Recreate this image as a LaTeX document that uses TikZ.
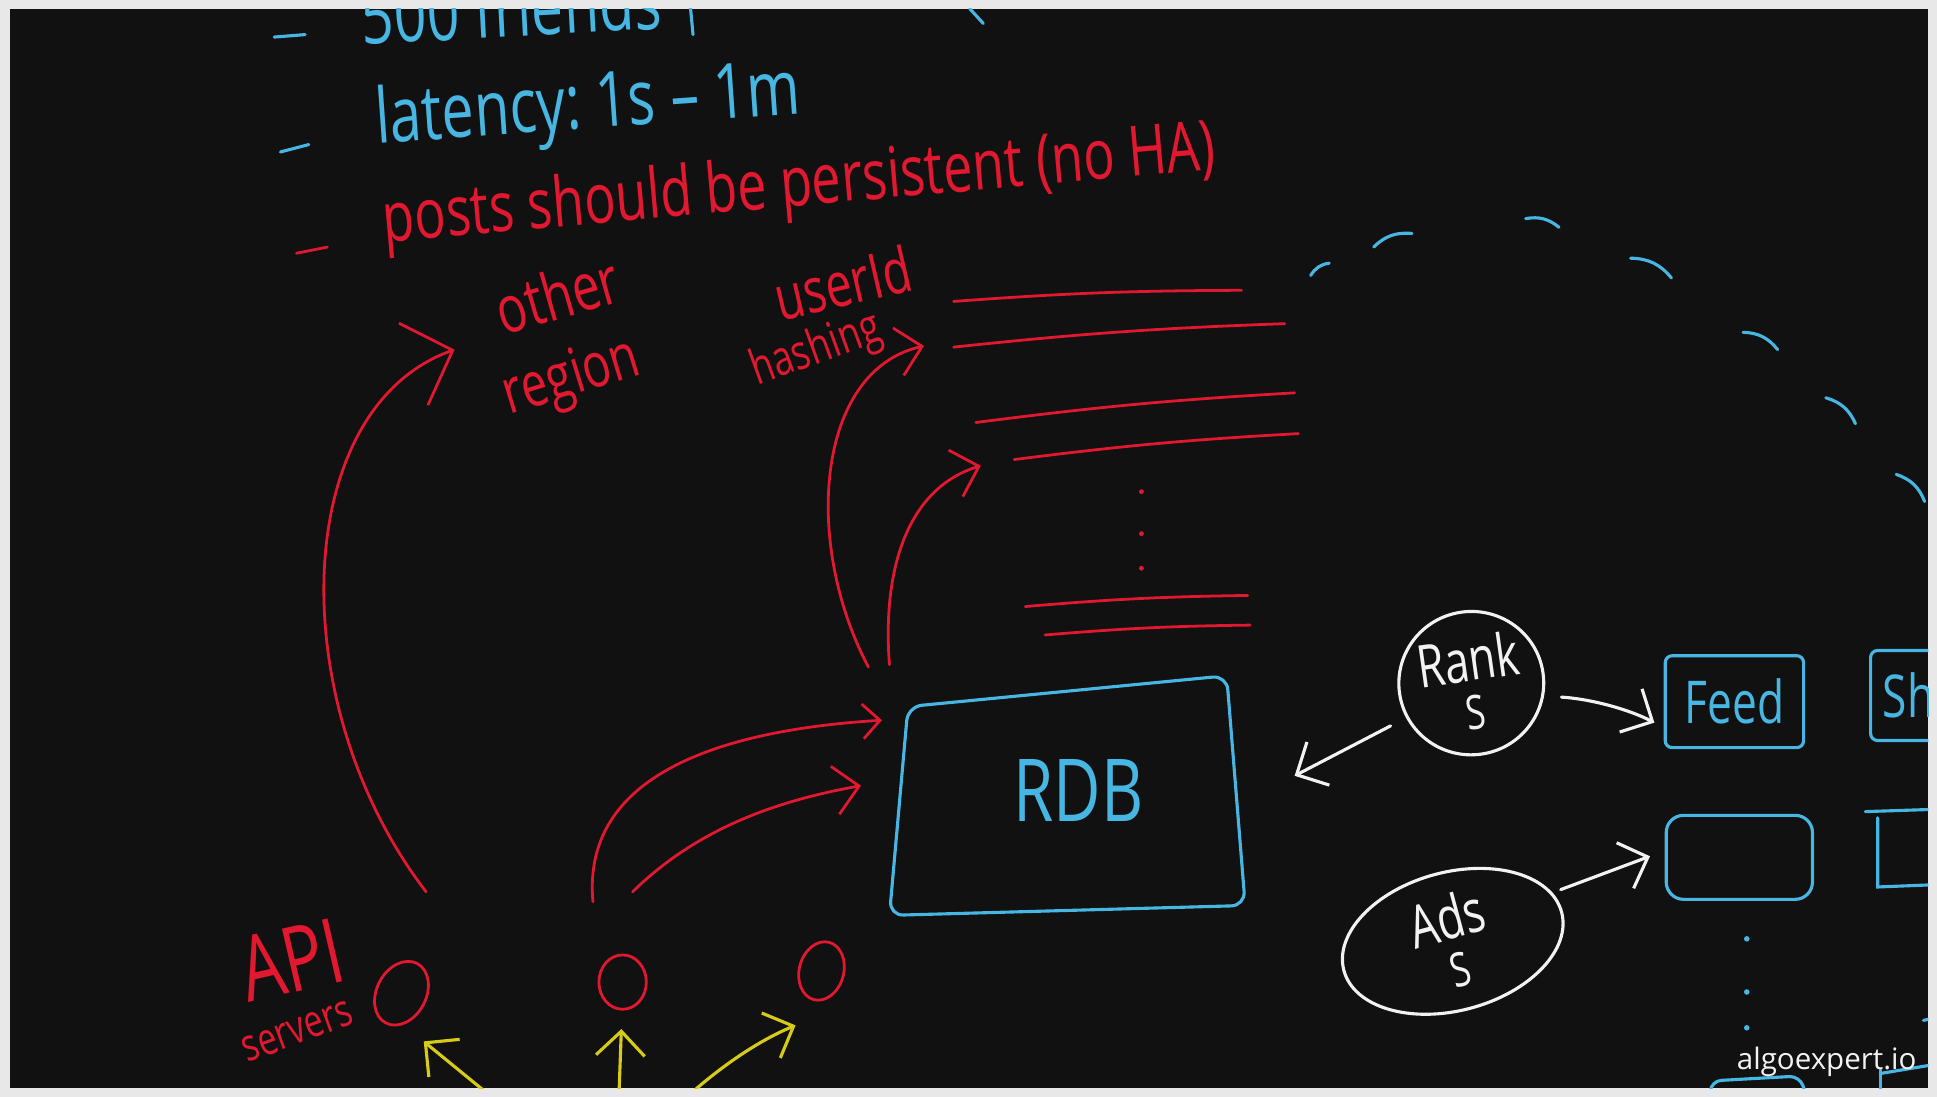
\documentclass[tikz,border=0pt]{standalone}
\usepackage{fontspec}
\setmainfont{Open Sans}
\usetikzlibrary{arrows.meta, shapes.geometric}

\definecolor{board}{RGB}{17,17,17}
\definecolor{frame}{RGB}{232,232,232}
\definecolor{inkred}{RGB}{226,24,48}
\definecolor{inkblue}{RGB}{72,182,226}
\definecolor{inkyellow}{RGB}{214,204,24}
\definecolor{inkwhite}{RGB}{242,242,242}

\newcommand{\handw}[1]{\scalebox{0.75}[1]{#1}}

\begin{document}
\begin{tikzpicture}[x=0.0125cm, y=0.0125cm,
    redpen/.style={draw=inkred, line width=0.8pt, line cap=round},
    bluepen/.style={draw=inkblue, line width=0.9pt, line cap=round},
    whitepen/.style={draw=inkwhite, line width=0.9pt, line cap=round},
    yellowpen/.style={draw=inkyellow, line width=0.9pt, line cap=round},
    redlabel/.style={text=inkred, inner sep=0pt},
    bluelabel/.style={text=inkblue, inner sep=0pt},
    headL/.style={-{Straight Barb[length=12pt,width=25pt]}},
    headM/.style={-{Straight Barb[length=7pt,width=14pt]}},
    headS/.style={-{Straight Barb[length=5pt,width=10pt]}},
    server/.style={redpen, ellipse, inner sep=0pt},
    bluebox/.style={bluepen, rectangle, rounded corners=2pt, inner sep=0pt, text=inkblue},
    bubble/.style={whitepen, ellipse, inner sep=0pt, text=inkwhite, align=center}
]
    \useasboundingbox (0,0) rectangle (1568,-888);
    \fill[frame] (0,0) rectangle (1568,-888);
    \fill[board] (8,-7) rectangle (1561,-881);
    \clip (8,-7) rectangle (1561,-881);

    % requirements
    \draw[bluepen] (222,-30) -- (247,-28);
    \node[bluelabel, anchor=base west, rotate=3, font=\fontsize{22}{22}\selectfont] (friends) at (293,-36) {\handw{500 friends}};
    \draw[bluepen] (559,-7) -- (561,-28);
    \draw[bluepen] (785,-7) -- (796,-19);
    \draw[bluepen] (227,-123) -- (250,-117);
    \node[bluelabel, anchor=base west, rotate=4, font=\fontsize{22}{22}\selectfont] (latency) at (305,-116) {\handw{latency:\ 1s \textendash\ 1m}};
    \draw[redpen] (240,-205) -- (265,-200);
    \node[redlabel, anchor=base west, rotate=5, font=\fontsize{20}{20}\selectfont] (persist) at (311,-196) {\handw{posts should be persistent (no HA)}};

    % replication / sharding notes
    \node[redlabel, rotate=16, font=\fontsize{19}{19}\selectfont] (other) at (451,-238) {\handw{other}};
    \node[redlabel, rotate=17, font=\fontsize{18}{18}\selectfont] (region) at (463,-307) {\handw{region}};
    \node[redlabel, rotate=13, font=\fontsize{18}{18}\selectfont] (userid) at (682,-229) {\handw{userId}};
    \node[redlabel, rotate=20, font=\fontsize{14}{14}\selectfont] (hashing) at (661,-284) {\handw{hashing}};

    % shards
    \foreach \xa/\ya/\xb/\yb in {772/244/1005/235, 772/281/1040/262, 790/342/1048/318,
                                 821/372/1051/351, 830/491/1010/482, 846/514/1012/506}
        \draw[redpen] (\xa,-\ya) to[bend left=2] (\xb,-\yb);
    \foreach \y in {398,432,460}
        \fill[inkred] (924,-\y) circle (0.7pt);

    % dashed region boundary
    \foreach \xa/\ya/\xb/\yb in {1061/223/1076/213, 1112/200/1143/189, 1235/177/1262/184,
                                 1320/209/1353/225, 1411/269/1439/283, 1478/322/1502/343,
                                 1535/384/1558/406}
        \draw[bluepen] (\xa,-\ya) to[bend left=25] (\xb,-\yb);

    % database
    \coordinate (rdbNW) at (735,-572);
    \coordinate (rdbNE) at (993,-547);
    \coordinate (rdbSE) at (1008,-733);
    \coordinate (rdbSW) at (720,-741);
    \draw[bluepen, rounded corners=4pt] (rdbNW) -- (rdbNE) -- (rdbSE) -- (rdbSW) -- cycle;
    \node[bluelabel, font=\fontsize{25}{25}\selectfont] (rdb) at (873,-640) {\handw{RDB}};

    % API servers
    \node[server, minimum width=0.5cm, minimum height=0.68cm, rotate=-28] (srvA) at (325,-804) {};
    \node[server, minimum width=0.48cm, minimum height=0.55cm] (srvB) at (504,-795) {};
    \node[server, minimum width=0.45cm, minimum height=0.6cm, rotate=-15] (srvC) at (665,-786) {};
    \node[redlabel, rotate=13, font=\fontsize{26}{26}\selectfont] (api) at (236,-777) {\handw{API}};
    \node[redlabel, rotate=20, font=\fontsize{13}{13}\selectfont] (servers) at (241,-835) {\handw{servers}};

    % writes
    \coordinate (upA) at (345,-722);
    \coordinate (otherIn) at (368,-283);
    \draw[redpen, headL] (upA) .. controls (228,-570) and (235,-330) .. (otherIn);
    \coordinate (rdbTop) at (703,-540);
    \coordinate (hashIn) at (748,-280);
    \draw[redpen, headM] (rdbTop) .. controls (650,-440) and (660,-300) .. (hashIn);
    \coordinate (rdbTop2) at (720,-538);
    \coordinate (shardIn) at (794,-377);
    \draw[redpen, headM] (rdbTop2) .. controls (714,-460) and (735,-395) .. (shardIn);
    \coordinate (srvBtop) at (480,-730);
    \coordinate (rdbIn) at (714,-583);
    \draw[redpen, headS] (srvBtop) .. controls (470,-620) and (600,-590) .. (rdbIn);
    \coordinate (srvBtop2) at (512,-722);
    \coordinate (rdbIn2) at (697,-636);
    \draw[redpen, headM] (srvBtop2) .. controls (565,-670) and (630,-648) .. (rdbIn2);

    % clients
    \coordinate (crowdA) at (398,-888);
    \coordinate (srvAin) at (343,-843);
    \draw[yellowpen, headM] (crowdA) -- (srvAin);
    \coordinate (crowdB) at (501,-888);
    \coordinate (srvBin) at (503,-833);
    \draw[yellowpen, headM] (crowdB) -- (srvBin);
    \coordinate (crowdC) at (556,-888);
    \coordinate (srvCin) at (644,-830);
    \draw[yellowpen, headM] (crowdC) .. controls (585,-862) and (615,-842) .. (srvCin);

    % ranking and ads
    \node[bubble, minimum width=1.33cm, minimum height=1.45cm, rotate=8, font=\fontsize{17}{14}\selectfont] (rank) at (1191,-553) {\handw{Rank}\\\scalebox{0.6}[0.8]{S}};
    \node[bubble, minimum width=2.28cm, minimum height=1.40cm, rotate=15, font=\fontsize{17}{14}\selectfont] (ads) at (1176,-762) {\handw{Ads}\\\scalebox{0.6}[0.8]{S}};
    \node[bluebox, minimum width=1.40cm, minimum height=0.93cm, font=\fontsize{17}{17}\selectfont] (feed) at (1404,-568) {\handw{Feed}};
    \node[bluebox, minimum width=1.48cm, minimum height=0.85cm, rounded corners=5pt] (slot) at (1408,-694) {};
    \node[bluebox, anchor=west, minimum width=1cm, minimum height=0.91cm, text width=0.75cm, align=left, font=\fontsize{17}{17}\selectfont] (shard) at (1513,-563) {\handw{Sh}};

    \coordinate (rdbRight) at (1048,-628);
    \draw[whitepen, headM, shorten <=5pt] (rank.200) -- (rdbRight);
    \draw[whitepen, headM, shorten <=5pt, shorten >=3pt] (rank.-18) .. controls (1290,-566) and (1320,-575) .. (feed.200);
    \draw[whitepen, headM, shorten <=2.5pt, shorten >=4.5pt] (ads.11) -- (slot.175);

    % boxes cut off at the edge
    \draw[bluepen] (1510,-657) -- (1570,-655);
    \draw[bluepen] (1520,-662) -- (1520,-718) -- (1570,-716);
    \draw[bluepen, rounded corners=3pt] (1384,-890) -- (1385,-875) -- (1457,-871) -- (1463,-890);
    \draw[bluepen] (1522,-890) -- (1522,-866);
    \draw[bluepen] (1522,-869) -- (1570,-861);
    \draw[bluepen] (1557,-826) -- (1570,-823);
    \foreach \y in {760,803,832}
        \fill[inkblue] (1414,-\y) circle (0.8pt);

    \node[text=inkwhite, inner sep=0pt, anchor=base east, font=\fontsize{8.5}{10}\selectfont] (brand) at (1552,-866) {algoexpert.io};
\end{tikzpicture}
\end{document}
